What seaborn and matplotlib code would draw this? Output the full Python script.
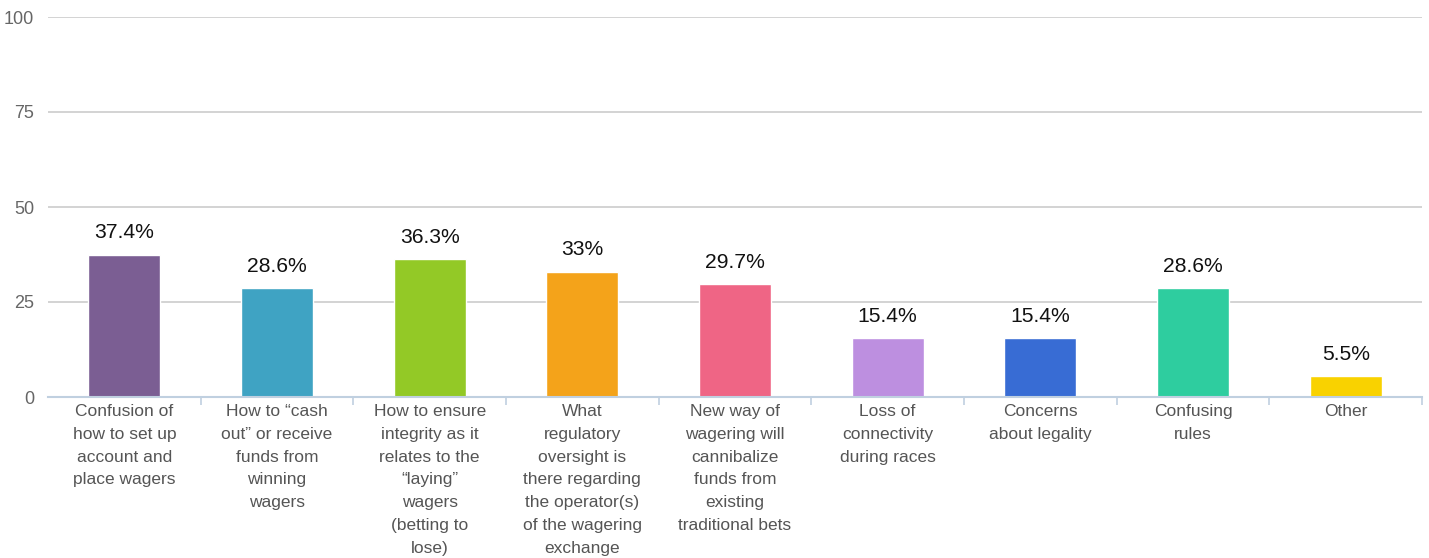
import matplotlib
matplotlib.use("Agg")
import matplotlib.pyplot as plt
import seaborn as sns
import pandas as pd
import numpy as np

categories = [
    "Confusion of\nhow to set up\naccount and\nplace wagers",
    "How to “cash\nout” or receive\nfunds from\nwinning\nwagers",
    "How to ensure\nintegrity as it\nrelates to the\n“laying”\nwagers\n(betting to\nlose)",
    "What\nregulatory\noversight is\nthere regarding\nthe operator(s)\nof the wagering\nexchange",
    "New way of\nwagering will\ncannibalize\nfunds from\nexisting\ntraditional bets",
    "Loss of\nconnectivity\nduring races",
    "Concerns\nabout legality",
    "Confusing\nrules",
    "Other",
]
values = [37.4, 28.6, 36.3, 33, 29.7, 15.4, 15.4, 28.6, 5.5]
colors = ["#7B5E93", "#3FA3C3", "#93C926", "#F4A31A", "#EF6585",
          "#BD8FE0", "#386CD4", "#2ECD9F", "#F9D200"]
yticks = [0, 25, 50, 75, 100]

sns.set_theme(style="white")
plt.rcParams["font.family"] = ["Liberation Sans", "DejaVu Sans"]

df = pd.DataFrame({"category": categories, "value": values})

fig = plt.figure(figsize=(14.29, 5.58), dpi=100)
ax = fig.add_axes([48 / 1429, 1 - 397 / 558, (1422 - 48) / 1429, (397 - 17) / 558])

sns.barplot(data=df, x="category", y="value", hue="category", palette=colors,
            order=categories, hue_order=categories, width=0.47, legend=False,
            saturation=1, ax=ax, zorder=3)

ax.set_xlim(-0.5, len(categories) - 0.5)
ax.set_ylim(0, 100)
ax.set_yticks(yticks)
ax.set_yticklabels([str(t) for t in yticks], color="#666666", fontsize=13)
ax.tick_params(axis="y", length=0, pad=10)
ax.grid(axis="y", color="#cccccc", linewidth=1.2, zorder=0)
ax.grid(axis="x", visible=False)

ax.set_xticks(range(len(categories)))
ax.set_xticklabels(categories, color="#555555", fontsize=12.5,
                   linespacing=1.65, va="top")
ax.tick_params(axis="x", which="major", length=0, pad=5)
ax.set_xticks(np.arange(0.5, len(categories), 1.0), minor=True)
ax.tick_params(axis="x", which="minor", length=6, color="#c0d0e0", width=1.2,
               bottom=True)

for s in ["top", "right", "left"]:
    ax.spines[s].set_visible(False)
ax.spines["bottom"].set_color("#c0d0e0")
ax.spines["bottom"].set_linewidth(1.5)
ax.spines["bottom"].set_zorder(4)

ax.set_xlabel("")
ax.set_ylabel("")

for i, v in enumerate(values):
    ax.annotate(f"{v:g}%", xy=(i, v), xytext=(0, 9), textcoords="offset points",
                ha="center", va="bottom", fontsize=15.2, color="#111111")

fig.savefig("out.png", dpi=100)
